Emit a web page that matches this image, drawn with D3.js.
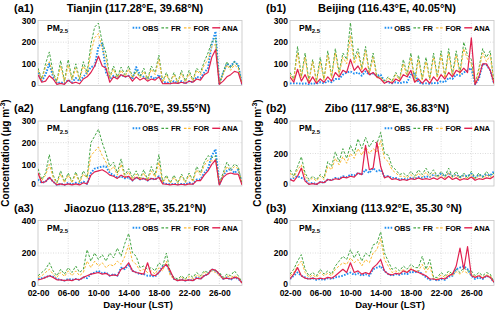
<!DOCTYPE html>
<html lang="en">
<head>
<meta charset="UTF-8">
<title>PM2.5 OBS / FR / FOR / ANA</title>
<script src="https://cdn.jsdelivr.net/npm/d3@7"></script>
<style>
  body { margin: 0; background: #fff; }
  svg { display: block; font-family: "Liberation Sans", Arial, sans-serif; font-weight: bold; }
</style>
</head>
<body>
<svg id="chart" width="500" height="312"></svg>
<script>
// samples every 12 h, day 02-00 .. 29-00 (55 points)
const startDay = 2
const stepDay = 0.5
const xTicks = [2, 6, 10, 14, 18, 22, 26]
const xTickLabels = ["02-00", "06-00", "10-00", "14-00", "18-00", "22-00", "26-00"]
const seriesNames = ["OBS", "FR", "FOR", "ANA"]
const seriesColors = ["#1f8ef1", "#45a645", "#f9b934", "#e0204f"]

// (a1) Tianjin
const tianjinObs = [60,20,50,100,40,10,15,10,25,15, 35,20,40,60,85,90,180,195,60,30, 45,35,50,40,45,30,85,50,40,30, 40,30,50,15,15,10,20,10,20,10, 20,15,40,35,60,80,190,250,5,60, 100,90,110,95,5]
const tianjinFr  = [80,30,100,155,60,20,115,20,120,30, 100,30,110,60,190,270,288,200,150,40, 90,40,85,50,90,40,70,40,80,30, 90,60,140,20,60,15,60,15,70,20, 70,25,80,60,110,150,200,220,10,60, 110,80,110,90,10]
const tianjinFor = [70,25,85,110,50,15,90,15,95,25, 80,25,90,50,150,220,240,170,120,35, 75,35,70,40,75,35,60,35,65,25, 75,50,120,15,50,12,50,12,55,15, 55,20,70,50,95,120,180,190,8,50, 95,70,95,80,8]
const tianjinAna = [50,15,20,45,30,5,10,5,25,10, 15,8,30,40,60,90,135,90,80,15, 40,30,50,40,45,20,40,25,35,20, 30,25,40,8,10,8,12,10,15,10, 20,15,30,25,50,60,130,165,5,20, 40,50,65,60,5]

// (a2) Langfang
const langfangObs = [30,15,20,40,20,5,10,5,15,8, 15,10,20,10,60,80,85,90,90,60, 50,40,45,35,40,25,40,30,35,25, 35,30,45,15,10,8,10,8,10,8, 15,10,30,30,60,80,140,170,5,50, 70,80,60,75,10]
const langfangFr  = [80,30,60,145,50,15,70,20,60,20, 65,20,70,40,200,230,262,200,150,90, 110,60,125,50,80,40,70,35,75,30, 90,50,145,20,50,15,50,15,55,20, 60,25,90,60,110,140,130,140,10,60, 110,80,100,90,10]
const langfangFor = [60,25,50,100,40,12,55,15,50,15, 55,15,55,35,140,160,180,140,110,70, 90,50,100,40,65,30,55,30,60,25, 70,40,110,15,40,12,40,12,45,15, 50,20,75,50,95,120,115,120,8,50, 90,70,90,80,8]
const langfangAna = [60,15,20,40,20,5,10,5,10,5, 10,5,15,10,50,65,70,75,65,50, 45,35,50,40,45,25,40,30,35,25, 35,30,40,10,8,5,8,5,8,5, 10,8,25,25,50,70,100,120,5,40, 55,60,55,55,5]

// (a3) Jiaozuo
const jiaozuoObs = [40,45,50,60,55,40,35,30,40,35, 40,35,50,45,70,80,90,75,80,60, 70,60,110,100,130,90,80,70,70,60, 60,55,80,120,130,80,40,30,40,30, 35,30,50,40,60,70,100,90,70,40, 50,35,50,40,20]
const jiaozuoFr  = [60,80,100,140,90,60,100,70,110,80, 120,80,100,220,150,200,160,190,150,200, 170,230,180,260,320,200,180,110,120,100, 110,90,140,120,200,80,50,40,60,40, 70,50,80,60,90,80,100,90,80,50, 70,60,90,60,20]
const jiaozuoFor = [50,60,80,100,70,50,80,55,90,60, 90,60,80,150,110,150,120,140,110,130, 120,150,130,180,250,150,130,90,100,80, 90,70,110,90,150,60,40,30,50,35, 55,40,65,50,80,70,90,80,60,40, 60,50,60,50,15]
const jiaozuoAna = [35,40,50,60,50,35,35,30,35,30, 40,35,50,60,70,75,80,70,75,60, 65,60,100,110,140,90,80,75,70,140, 65,60,80,110,130,90,40,30,35,30, 35,30,45,40,60,70,100,95,70,40, 45,40,50,45,15]

// (b1) Beijing
const beijingObs = [10,10,10,8,10,5,10,8,15,10, 20,15,30,30,50,60,65,55,60,45, 65,50,55,45,50,20,15,10,15,10, 15,15,50,55,15,8,10,8,12,10, 20,15,35,30,50,45,60,70,80,5, 30,100,95,70,10]
const beijingFr  = [60,30,180,40,150,20,120,20,130,30, 160,40,170,60,150,120,290,120,170,80, 180,60,150,40,40,20,40,20,60,30, 120,50,150,20,140,30,130,30,150,40, 160,40,170,50,160,60,200,140,120,10, 80,170,130,160,10]
const beijingFor = [50,25,150,35,130,15,110,15,110,25, 140,35,150,50,130,100,230,100,150,70, 160,50,130,35,35,15,35,15,50,25, 100,40,130,15,120,25,110,25,130,35, 140,35,150,40,140,50,170,120,100,8, 70,150,110,140,8]
const beijingAna = [40,15,75,20,50,10,40,10,30,15, 40,20,60,40,70,60,120,70,90,60, 80,50,60,40,30,10,20,10,30,20, 50,40,70,15,30,10,30,10,40,20, 50,30,60,40,70,60,80,60,220,5, 40,100,100,70,10]

// (b2) Zibo
const ziboObs = [40,50,60,50,40,15,20,10,25,20, 40,35,50,45,60,55,70,65,80,70, 100,80,110,90,100,60,60,50,50,40, 45,40,50,45,55,50,60,55,70,60, 75,60,80,60,70,55,65,60,75,50, 70,60,70,65,90]
const ziboFr  = [100,60,120,180,80,40,60,40,70,50, 150,120,210,150,230,170,250,200,290,230, 300,240,280,260,330,200,190,120,100,70, 80,60,90,60,100,70,110,70,100,60, 90,60,110,60,90,50,80,50,90,50, 80,50,90,60,80]
const ziboFor = [80,50,100,130,60,30,50,30,60,40, 120,100,170,130,180,140,200,170,230,190, 240,200,230,210,280,170,150,100,80,60, 60,50,70,50,80,55,85,55,80,50, 70,50,85,50,70,40,65,40,70,40, 65,40,70,50,65]
const ziboAna = [40,30,60,110,30,10,15,10,25,20, 40,35,45,40,55,50,60,55,80,70, 250,100,110,270,120,50,60,40,45,35, 40,35,45,40,50,40,45,40,50,40, 55,40,60,40,50,35,45,40,55,35, 45,40,50,45,60]

// (b3) Xinxiang
const xinxiangObs = [40,60,80,60,50,40,45,35,40,35, 45,40,50,55,60,70,80,65,75,60, 70,60,100,110,120,90,70,60,70,65, 75,70,85,80,90,70,50,35,40,30, 40,35,55,60,100,110,120,100,60,40, 50,40,60,50,20]
const xinxiangFr  = [70,100,150,190,100,60,80,60,100,70, 90,70,120,150,180,160,220,170,210,150, 200,180,250,260,330,200,150,100,110,90, 120,100,130,110,110,180,100,160,50,50, 80,60,90,70,100,80,110,90,90,60, 80,60,80,70,20]
const xinxiangFor = [60,80,120,150,80,50,65,50,80,60, 75,60,100,120,140,130,170,140,160,120, 160,140,200,220,290,160,120,80,90,75, 100,80,110,90,90,130,80,120,40,40, 65,50,75,60,85,70,90,75,75,50, 65,50,65,60,15]
const xinxiangAna = [40,70,110,60,45,40,45,40,45,40, 50,45,60,80,100,80,140,80,90,70, 80,70,110,130,160,90,70,65,75,70, 90,80,100,90,80,70,60,40,40,35, 45,40,60,70,120,230,100,240,60,50, 60,45,60,50,20]

const panels = [
    { tag: "(a1)", title: "Tianjin (117.28°E, 39.68°N)", col: 0, row: 0, yMax: 300, yTicks: [0, 100, 200, 300], series: [tianjinObs, tianjinFr, tianjinFor, tianjinAna] },
    { tag: "(a2)", title: "Langfang (116.70°E, 39.55°N)", col: 0, row: 1, yMax: 300, yTicks: [0, 100, 200, 300], series: [langfangObs, langfangFr, langfangFor, langfangAna] },
    { tag: "(a3)", title: "Jiaozuo (113.28°E, 35.21°N)", col: 0, row: 2, yMax: 400, yTicks: [0, 200, 400], series: [jiaozuoObs, jiaozuoFr, jiaozuoFor, jiaozuoAna] },
    { tag: "(b1)", title: "Beijing (116.43°E, 40.05°N)", col: 1, row: 0, yMax: 300, yTicks: [0, 100, 200, 300], series: [beijingObs, beijingFr, beijingFor, beijingAna] },
    { tag: "(b2)", title: "Zibo (117.98°E, 36.83°N)", col: 1, row: 1, yMax: 400, yTicks: [0, 200, 400], series: [ziboObs, ziboFr, ziboFor, ziboAna] },
    { tag: "(b3)", title: "Xinxiang (113.92°E, 35.30 °N)", col: 1, row: 2, yMax: 400, yTicks: [0, 200, 400], series: [xinxiangObs, xinxiangFr, xinxiangFor, xinxiangAna] },
]

const colLeft = [38, 290]
const rowTop = [20.5, 121, 220.5]
const pw = 204
const ph = 65
const lastRow = 2

// line styles: OBS dotted, FR / FOR dashed, ANA solid
const dash = ["1.6,1.4", "2.6,1.6", "2.6,1.6", null]
const widths = [1.9, 1, 1, 1.2]

const times = tianjinObs.map((_, i) => startDay + i * stepDay)

const svg = d3.select('#chart')

panels.forEach((p, pi) => {
    const x0 = colLeft[p.col]
    const y0 = rowTop[p.row]
    const x = d3.scaleLinear().domain([2, 29]).range([x0, x0 + pw])
    const y = d3.scaleLinear().domain([0, p.yMax]).range([y0 + ph, y0])
    const g = svg.append('g')

    // dotted grid
    g.selectAll('line.vg')
        .data(xTicks.slice(1))
        .join('line')
        .attr('x1', d => x(d)).attr('x2', d => x(d))
        .attr('y1', y0).attr('y2', y0 + ph)
        .attr('stroke', '#cfcfcf').attr('stroke-width', 0.7).attr('stroke-dasharray', '1,1.5')
    g.selectAll('line.hg')
        .data(p.yTicks.slice(1, -1))
        .join('line')
        .attr('x1', x0).attr('x2', x0 + pw)
        .attr('y1', d => y(d)).attr('y2', d => y(d))
        .attr('stroke', '#cfcfcf').attr('stroke-width', 0.7).attr('stroke-dasharray', '1,1.5')

    g.append('rect')
        .attr('x', x0).attr('y', y0).attr('width', pw).attr('height', ph)
        .attr('fill', 'none').attr('stroke', '#c4c4c4').attr('stroke-width', 0.8)

    // y axis
    const yAxis = g.append('g')
        .attr('transform', `translate(${x0},0)`)
        .call(d3.axisLeft(y).tickValues(p.yTicks).tickSize(0).tickPadding(2))
    yAxis.select('.domain').remove()
    yAxis.selectAll('text').attr('font-size', 8.5).attr('font-weight', 'bold')
        .attr('font-family', '"Liberation Sans", Arial, sans-serif').attr('fill', '#000')
        .attr('dy', d => d === 0 ? '0.1em' : '0.32em')

    // x axis labels on the bottom row only
    if (p.row === lastRow) {
        const xAxis = g.append('g')
            .attr('transform', `translate(0,${y0 + ph})`)
            .call(d3.axisBottom(x).tickValues(xTicks).tickFormat((d, i) => xTickLabels[i]).tickSize(0).tickPadding(4.5))
        xAxis.select('.domain').remove()
        xAxis.selectAll('text').attr('font-size', 8.5).attr('font-weight', 'bold')
            .attr('font-family', '"Liberation Sans", Arial, sans-serif').attr('fill', '#000')
        g.append('text')
            .attr('x', x0 + 100).attr('y', y0 + ph + 22)
            .attr('text-anchor', 'middle').attr('font-size', 9.5)
            .text('Day-Hour (LST)')
    }

    // titles
    g.append('text').attr('x', x0 - 24).attr('y', y0 - 9).attr('font-size', 11).text(p.tag)
    g.append('text').attr('x', x0 + 97).attr('y', y0 - 9)
        .attr('text-anchor', 'middle').attr('font-size', 11).text(p.title)

    // series
    svg.append('clipPath').attr('id', 'clip' + pi)
        .append('rect').attr('x', x0).attr('y', y0 - 1).attr('width', pw).attr('height', ph + 1)
    const line = d3.line().x((d, i) => x(times[i])).y(d => y(d))
    g.append('g').attr('clip-path', `url(#clip${pi})`)
        .selectAll('path')
        .data(p.series)
        .join('path')
        .attr('d', d => line(d))
        .attr('fill', 'none')
        .attr('stroke', (d, i) => seriesColors[i])
        .attr('stroke-width', (d, i) => widths[i])
        .attr('stroke-dasharray', (d, i) => dash[i])
        .attr('stroke-linejoin', 'round')

    // PM2.5 label
    const pm = g.append('text').attr('x', x0 + 9).attr('y', y0 + 10).attr('font-size', 8.5)
    pm.append('tspan').text('PM')
    pm.append('tspan').attr('font-size', 6).attr('dy', 2.5).text('2.5')

    // legend, right aligned inside the box
    const items = g.append('g').selectAll('g').data(seriesNames).join('g')
    items.append('text').attr('font-size', 7.5).attr('y', y0 + 10).text(d => d)
    const txtW = []
    items.select('text').each(function () { txtW.push(this.getComputedTextLength()) })
    const pos = []
    let cx = x0 + pw - 4
    for (let i = seriesNames.length - 1; i >= 0; i--) {
        cx -= txtW[i]
        const tx = cx
        const mx = cx - 9.5
        pos[i] = { tx, mx }
        cx = mx - 3
    }
    items.select('text').attr('x', (d, i) => pos[i].tx)
    items.append('line')
        .attr('x1', (d, i) => pos[i].mx).attr('x2', (d, i) => pos[i].mx + 8)
        .attr('y1', y0 + 7.3).attr('y2', y0 + 7.3)
        .attr('stroke', (d, i) => seriesColors[i])
        .attr('stroke-width', (d, i) => widths[i] + 0.2)
        .attr('stroke-dasharray', (d, i) => dash[i])
})

// shared y-axis labels
colLeft.forEach(x0 => {
    const t = svg.append('text')
        .attr('transform', `translate(${x0 - 29},153) rotate(-90)`)
        .attr('text-anchor', 'middle').attr('font-size', 10)
    t.append('tspan').text('Concentration (μg m')
    t.append('tspan').attr('font-size', 7).attr('dy', -4).text('-3')
    t.append('tspan').attr('dy', 4).text(')')
})
</script>
</body>
</html>
